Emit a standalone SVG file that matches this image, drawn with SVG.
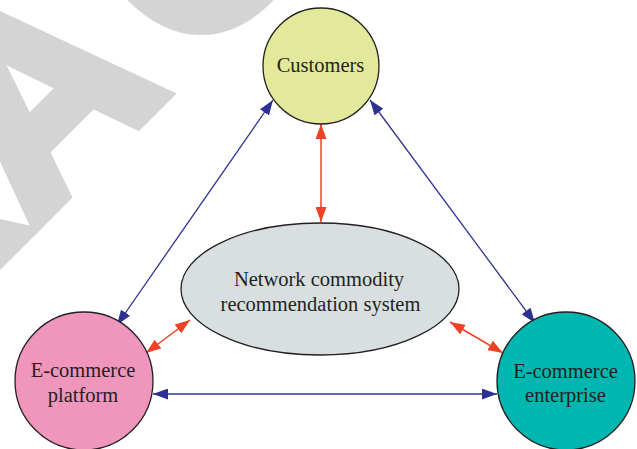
<svg xmlns="http://www.w3.org/2000/svg" width="637" height="449" viewBox="0 0 637 449">
  <defs>
    <style>
      .node { stroke: #231f20; stroke-width: 1.3; }
      .label { font-family: "Liberation Serif", "Times New Roman", serif; font-size: 20.5px; fill: #231f20; text-anchor: middle; }
      .blue { stroke: #2e3192; stroke-width: 1.3; fill: none; marker-start: url(#headBlue); marker-end: url(#headBlue); }
      .red { stroke: #ef4123; stroke-width: 1.5; fill: none; marker-start: url(#headRed); marker-end: url(#headRed); }
      .mark { font-family: "Liberation Sans", Arial, sans-serif; font-weight: bold; font-size: 270px; fill: #d4d4d4; stroke: #d4d4d4; stroke-width: 14; stroke-linejoin: miter; }
    </style>
    <marker id="headBlue" markerUnits="userSpaceOnUse" markerWidth="16" markerHeight="11" refX="15" refY="5.5" orient="auto-start-reverse">
      <path d="M0,0 L15,5.5 L0,11 Z" fill="#2e3192"/>
    </marker>
    <marker id="headRed" markerUnits="userSpaceOnUse" markerWidth="16" markerHeight="11" refX="15" refY="5.5" orient="auto-start-reverse">
      <path d="M0,0 L15,5.5 L0,11 Z" fill="#ef4123"/>
    </marker>
  </defs>

  <rect width="637" height="449" fill="#ffffff"/>

  <!-- diagonal watermark -->
  <text class="mark" x="-874" y="184" transform="rotate(-45)">RETRA<tspan dx="30">CTED</tspan></text>

  <!-- connectors -->
  <g id="connectors">
    <line class="blue" x1="273" y1="100" x2="117" y2="325"/>
    <line class="blue" x1="370" y1="100" x2="535" y2="323"/>
    <line class="blue" x1="153" y1="394" x2="497" y2="394"/>
    <line class="red" x1="321" y1="124" x2="321" y2="222"/>
    <line class="red" x1="190" y1="320" x2="146" y2="353"/>
    <line class="red" x1="450" y1="322" x2="503" y2="353"/>
  </g>

  <g id="customers">
    <circle class="node" cx="321" cy="66" r="58" fill="#e3e99a"/>
    <text class="label" x="320.5" y="71.5">Customers</text>
  </g>

  <g id="recommendation-system">
    <ellipse class="node" cx="320" cy="289" rx="139" ry="66" fill="#d9dfe1"/>
    <text class="label" x="319" y="285.5">Network commodity</text>
    <text class="label" x="320.5" y="311">recommendation system</text>
  </g>

  <g id="platform">
    <circle class="node" cx="84" cy="381" r="69" fill="#f096bd"/>
    <text class="label" x="83" y="377">E-commerce</text>
    <text class="label" x="83" y="402">platform</text>
  </g>

  <g id="enterprise">
    <circle class="node" cx="566" cy="381" r="69" fill="#00b6b1"/>
    <text class="label" x="565.5" y="378">E-commerce</text>
    <text class="label" x="565.5" y="402">enterprise</text>
  </g>
</svg>
